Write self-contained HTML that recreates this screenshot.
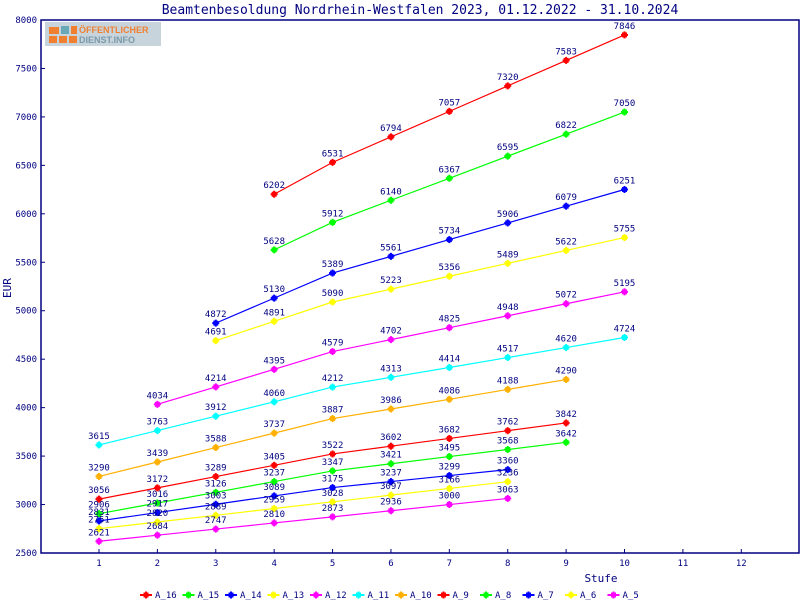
<!DOCTYPE html>
<html><head><meta charset="utf-8"><style>
body{margin:0;background:#fff;}
svg{display:block;font-family:"DejaVu Sans Mono","Liberation Mono",monospace;}
</style></head><body>
<svg id="c" width="800" height="600" xmlns="http://www.w3.org/2000/svg">
<rect width="800" height="600" fill="#fff"/>
<text x="420" y="14" font-size="13" fill="#000080" text-anchor="middle">Beamtenbesoldung Nordrhein-Westfalen 2023, 01.12.2022 - 31.10.2024</text>
<g>
<rect x="45" y="22" width="116" height="24" fill="#c8d4dc"/>
<rect x="49" y="27" width="10" height="7" fill="#f08030"/><rect x="61" y="26" width="8" height="8" fill="#6aa8b8"/><rect x="71" y="26" width="6" height="8" fill="#f08030"/>
<rect x="49" y="36" width="8" height="7" fill="#f08030"/><rect x="59" y="36" width="8" height="7" fill="#f08030"/><rect x="69" y="36" width="8" height="7" fill="#f08030"/>
<text x="79" y="33" font-size="9" font-weight="bold" fill="#f08030" font-family="Liberation Sans,sans-serif">ÖFFENTLICHER</text>
<text x="79" y="43" font-size="9" font-weight="bold" fill="#7a9aaa" font-family="Liberation Sans,sans-serif">DIENST.INFO</text>
</g>
<rect x="41" y="20" width="758" height="533" fill="none" stroke="#000080" stroke-width="1.5"/>
<g id="ax"></g>
<g id="ser"></g>
<text x="601" y="582" font-size="11" fill="#000080" text-anchor="middle">Stufe</text>
<text transform="translate(11,288) rotate(-90)" font-size="11" fill="#000080" text-anchor="middle">EUR</text>
<g id="leg"></g>
</svg>
<script>
var NS="http://www.w3.org/2000/svg";
function el(p,t,a,txt){var e=document.createElementNS(NS,t);for(var k in a)e.setAttribute(k,a[k]);if(txt!==undefined)e.textContent=txt;p.appendChild(e);return e;}
function X(s){return 40.6+58.39*s;}
function Y(v){return 553-(v-2500)*533/5500;}
var ax=document.getElementById('ax');
for(var v=2500;v<=8000;v+=500){var y=Y(v);el(ax,'line',{x1:41,x2:45,y1:y,y2:y,stroke:'#000080'});el(ax,'text',{x:37,y:y+3,'font-size':9,fill:'#000080','text-anchor':'end'},v);}
for(var s=1;s<=12;s++){var x=X(s);el(ax,'line',{x1:x,x2:x,y1:553,y2:549,stroke:'#000080'});el(ax,'text',{x:x,y:566,'font-size':9,fill:'#000080','text-anchor':'middle'},s);}
var S=[
["A_16","#ff0000",4,[6202,6531,6794,7057,7320,7583,7846]],
["A_15","#00ff00",4,[5628,5912,6140,6367,6595,6822,7050]],
["A_14","#0000ff",3,[4872,5130,5389,5561,5734,5906,6079,6251]],
["A_13","#ffff00",3,[4691,4891,5090,5223,5356,5489,5622,5755]],
["A_12","#ff00ff",2,[4034,4214,4395,4579,4702,4825,4948,5072,5195]],
["A_11","#00ffff",1,[3615,3763,3912,4060,4212,4313,4414,4517,4620,4724]],
["A_10","#ffb000",1,[3290,3439,3588,3737,3887,3986,4086,4188,4290]],
["A_9","#ff0000",1,[3056,3172,3289,3405,3522,3602,3682,3762,3842]],
["A_8","#00ff00",1,[2906,3016,3126,3237,3347,3421,3495,3568,3642]],
["A_7","#0000ff",1,[2831,2917,3003,3089,3175,3237,3299,3360]],
["A_6","#ffff00",1,[2751,2820,2889,2959,3028,3097,3166,3236]],
["A_5","#ff00ff",1,[2621,2684,2747,2810,2873,2936,3000,3063]]];
var g=document.getElementById('ser'),lg=document.getElementById('leg');
function mark(p,x,y,c){el(p,'rect',{x:x-2.5,y:y-2.5,width:5,height:5,fill:c});el(p,'rect',{x:x-3.5,y:y-1,width:7,height:2,fill:c});el(p,'rect',{x:x-1,y:y-3.5,width:2,height:7,fill:c});}
S.forEach(function(sr,i){
 var pts=sr[3].map(function(v,j){return [X(sr[2]+j),Y(v),v];});
 el(g,'polyline',{points:pts.map(function(p){return p[0]+','+p[1];}).join(' '),fill:'none',stroke:sr[1],'stroke-width':1.2});
 pts.forEach(function(p){mark(g,p[0],p[1],sr[1]);el(g,'text',{x:p[0],y:p[1]-6,'font-size':9,fill:'#000080','text-anchor':'middle'},p[2]);});
 var lx=140+42.5*i;
 el(lg,'line',{x1:lx,x2:lx+12,y1:595,y2:595,stroke:sr[1],'stroke-width':2});mark(lg,lx+6,595,sr[1]);
 el(lg,'text',{x:lx+15,y:598,'font-size':9,fill:'#000080'},sr[0]);
});
</script>
</body></html>
